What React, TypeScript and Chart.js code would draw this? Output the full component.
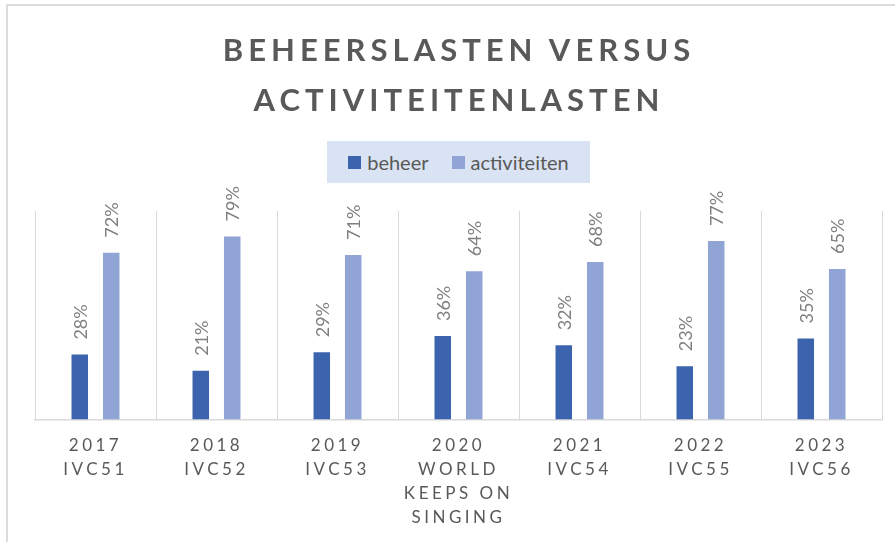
import React, { useEffect, useRef } from "react";
import { Chart, registerables } from "chart.js";

Chart.register(...registerables);

const categories: string[][] = [
  ["2017", "IVC51"],
  ["2018", "IVC52"],
  ["2019", "IVC53"],
  ["2020", "WORLD", "KEEPS ON", "SINGING"],
  ["2021", "IVC54"],
  ["2022", "IVC55"],
  ["2023", "IVC56"],
];
const seriesNames = ["beheer", "activiteiten"];
const beheer = [28, 21, 29, 36, 32, 23, 35];
const activiteiten = [72, 79, 71, 64, 68, 77, 65];
const titleLines = ["BEHEERSLASTEN VERSUS", "ACTIVITEITENLASTEN"];
const seriesColors = ["#3c64ae", "#90a4d5"];
const yMax = 90;

const labelPlugin = {
  id: "rotatedLabels",
  beforeDraw(chart: any) {
    chart.ctx.letterSpacing = "3.5px";
  },
  beforeDatasetsDraw(chart: any) {
    chart.ctx.letterSpacing = "0px";
  },
  afterDatasetsDraw(chart: any) {
    const ctx = chart.ctx;
    chart.data.datasets.forEach((ds: any, di: number) => {
      const meta = chart.getDatasetMeta(di);
      meta.data.forEach((el: any, i: number) => {
        ctx.save();
        ctx.letterSpacing = "0px";
        ctx.translate(el.x, el.y - 15);
        ctx.rotate(-Math.PI / 2);
        ctx.font = "18px Lato";
        ctx.fillStyle = "#7f7f7f";
        ctx.textAlign = "left";
        ctx.textBaseline = "middle";
        ctx.fillText(ds.data[i] + "%", 0, 1);
        ctx.restore();
      });
    });
  },
};

export default function App() {
  const canvasRef = useRef<HTMLCanvasElement | null>(null);

  useEffect(() => {
    if (!canvasRef.current) return;
    Chart.defaults.font.family = "Lato";
    const chart = new Chart(canvasRef.current, {
      type: "bar",
      data: {
        labels: categories,
        datasets: [
          {
            label: seriesNames[0],
            data: beheer,
            backgroundColor: seriesColors[0],
            categoryPercentage: 0.52,
            barPercentage: 0.525,
          },
          {
            label: seriesNames[1],
            data: activiteiten,
            backgroundColor: seriesColors[1],
            categoryPercentage: 0.52,
            barPercentage: 0.525,
          },
        ],
      },
      options: {
        responsive: false,
        animation: false,
        devicePixelRatio: 1,
        layout: { padding: { left: 35, right: 13, top: 211, bottom: -2 } },
        plugins: {
          legend: { display: false },
          title: { display: false },
          tooltip: { enabled: false },
        },
        scales: {
          x: {
            offset: true,
            grid: {
              offset: true,
              color: "#d9d9d9",
              lineWidth: 1,
              drawTicks: false,
            },
            border: { color: "#d9d9d9", width: 1.5 },
            ticks: {
              color: "#595959",
              font: { size: 17, family: "Lato", lineHeight: 1.42 },
              padding: 14,
              maxRotation: 0,
              autoSkip: false,
            },
          },
          y: {
            display: false,
            min: 0,
            max: yMax,
          },
        },
      },
      plugins: [labelPlugin],
    });
    return () => chart.destroy();
  }, []);

  return (
    <div>
      <div
        style={{
          position: "absolute",
          left: 6,
          top: 4,
          width: 910,
          height: 560,
          border: "2px solid #dcdcdc",
          boxSizing: "border-box",
        }}
      />
      <canvas
        ref={canvasRef}
        width={895}
        height={542}
        style={{ position: "absolute", left: 0, top: 0, width: 895, height: 542 }}
      />
      <div
        style={{
          position: "absolute",
          left: 0,
          top: 24,
          width: 918,
          textAlign: "center",
          fontFamily: "Lato",
          fontWeight: 700,
          fontSize: 31,
          lineHeight: "50px",
          letterSpacing: "5px",
          color: "#595959",
        }}
      >
        {titleLines.map((t) => (
          <div key={t}>{t}</div>
        ))}
      </div>
      <div
        style={{
          position: "absolute",
          left: 327,
          top: 141,
          width: 263,
          height: 42,
          background: "#dae3f3",
          display: "flex",
          alignItems: "center",
          justifyContent: "center",
          fontFamily: "Lato",
          fontSize: 20,
          color: "#595959",
        }}
      >
        {seriesNames.map((n, i) => (
          <div
            key={n}
            style={{
              display: "flex",
              alignItems: "center",
              marginLeft: i === 0 ? 0 : 23,
            }}
          >
            <span
              style={{
                display: "inline-block",
                width: 13,
                height: 13,
                background: seriesColors[i],
                marginRight: 6,
              }}
            />
            <span>{n}</span>
          </div>
        ))}
      </div>
    </div>
  );
}
